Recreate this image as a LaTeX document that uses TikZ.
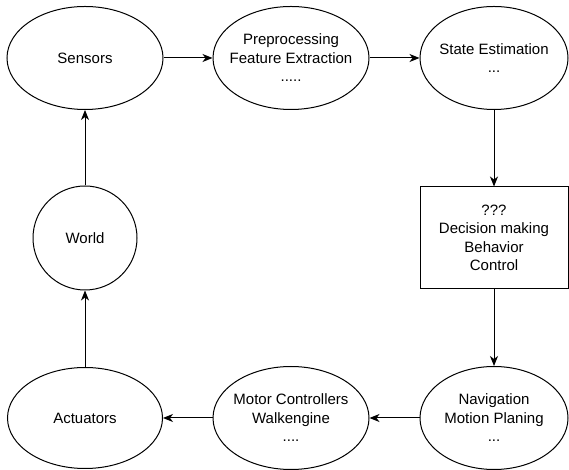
\documentclass[tikz,border=0pt]{standalone}
\usepackage{fontspec}
\setmainfont{Liberation Sans}
\usetikzlibrary{arrows.meta}
\usetikzlibrary{shapes.geometric, arrows, positioning}
\tikzstyle{arrow} = [line width=1pt,-{Stealth[length=10pt,width=8pt,inset=3pt]}]
\tikzstyle{stage} = [ellipse, draw=black, line width=1pt, minimum width=156pt, minimum height=103pt, inner xsep=-12pt, inner ysep=0pt, text centered, align=center]
\tikzstyle{world} = [circle, draw=black, line width=1pt, minimum size=104pt, inner sep=0pt, text centered]
\tikzstyle{decision} = [rectangle, draw=black, line width=1pt, minimum width=148pt, minimum height=102pt, inner sep=0pt, text centered, align=center]

\begin{document}
\begin{tikzpicture}[node distance=180pt, font=\fontsize{15}{18.5}\selectfont]
\useasboundingbox (0pt,0pt) rectangle (569pt,470pt);
%----------------------------------------------------------------------------
% Placement of nodes
\node (sensors) [stage] at (85pt,412pt) {Sensors};
\node (preproc) [stage, right of = sensors, node distance=206pt] {Preprocessing\\Feature Extraction\\.....};
\node (stateEst) [stage, right of = preproc, node distance=203pt, minimum width=148pt] {State Estimation\\...};

\node (decision) [decision, below of = stateEst] {???\\Decision making\\Behavior\\Control};
\node (navigation) [stage, below of = decision, minimum width=148pt] {Navigation\\Motion Planing\\...};
\node (motorCtrl) [stage, left of = navigation, node distance=203pt] {Motor Controllers\\Walkengine\\....};
\node (actuators) [stage, left of = motorCtrl, node distance=206pt, minimum width=155pt, minimum height=101pt] {Actuators};

\node (world) [world, below of = sensors] {World};

%----------------------------------------------------------------------------
% Lines
\draw [arrow] (sensors) -- (preproc);
\draw [arrow] (preproc) -- (stateEst);
\draw [arrow] (stateEst) -- (decision);
\draw [arrow] (decision) -- (navigation);
\draw [arrow] (navigation) -- (motorCtrl);
\draw [arrow] (motorCtrl) -- (actuators);
\draw [arrow] (actuators) -- (world);
\draw [arrow] (world) -- (sensors);

\end{tikzpicture}
\end{document}
